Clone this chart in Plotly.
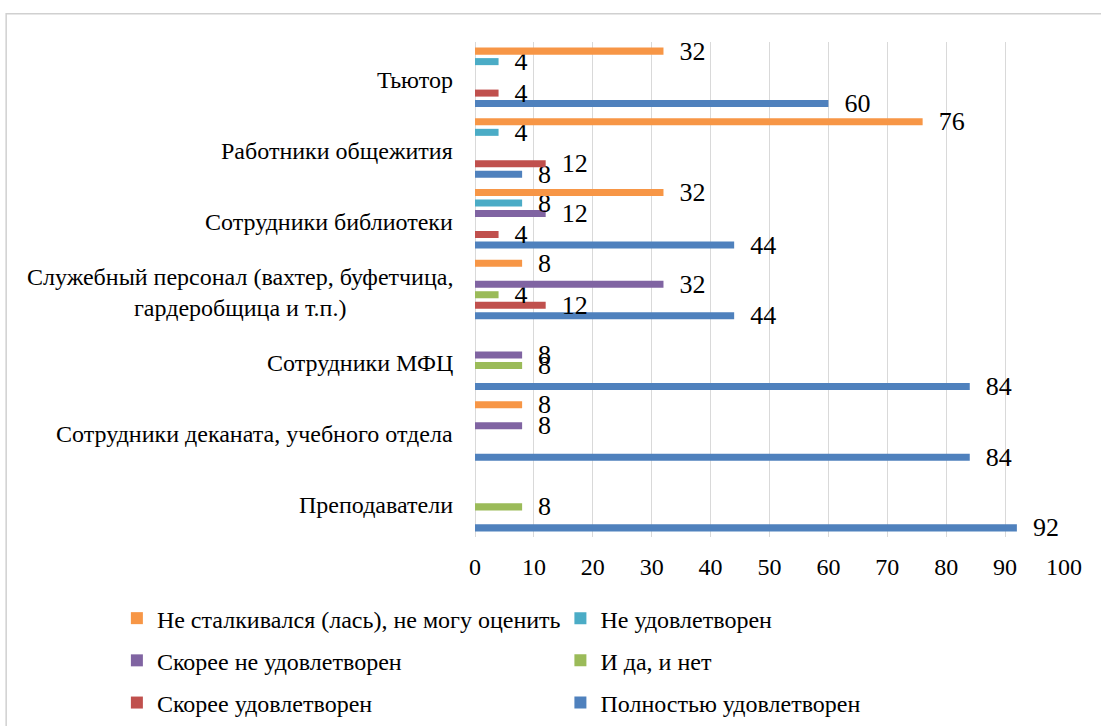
import plotly.graph_objects as go

categories = [
    "Преподаватели",
    "Сотрудники деканата, учебного отдела",
    "Сотрудники МФЦ",
    "Служебный персонал (вахтер, буфетчица,<br>гардеробщица и т.п.)",
    "Сотрудники библиотеки",
    "Работники общежития",
    "Тьютор",
]

series_names = [
    "Полностью удовлетворен",
    "Скорее удовлетворен",
    "И да, и нет",
    "Скорее не удовлетворен",
    "Не удовлетворен",
    "Не сталкивался (лась), не могу оценить",
]

polnostyu = [92, 84, 84, 44, 44, 8, 60]
skoree_udovl = [0, 0, 0, 12, 4, 12, 4]
i_da_i_net = [8, 0, 8, 4, 0, 0, 0]
skoree_ne = [0, 8, 8, 32, 12, 0, 0]
ne_udovl = [0, 0, 0, 0, 8, 4, 4]
ne_stalk = [0, 8, 0, 8, 32, 76, 32]

series_values = [polnostyu, skoree_udovl, i_da_i_net, skoree_ne, ne_udovl, ne_stalk]
colors = ["#4f81bd", "#c0504d", "#9bbb59", "#8064a2", "#4bacc6", "#f79646"]
legend_ref = ["legend2", "legend", "legend2", "legend", "legend2", "legend"]
legend_rank = [3, 3, 2, 2, 1, 1]

FONT = "Liberation Serif"

fig = go.Figure()
for name, vals, col, lg, rk in zip(series_names, series_values, colors, legend_ref, legend_rank):
    xs = [v if v != 0 else None for v in vals]
    fig.add_trace(go.Bar(
        y=categories, x=xs, name=name, orientation="h",
        marker=dict(color=col, line=dict(width=0)),
        text=[("\u00a0\u00a0" + str(v)) if v else "" for v in vals],
        textposition="outside", constraintext="none", cliponaxis=False,
        textfont=dict(family=FONT, size=26, color="black"),
        legend=lg, legendrank=rk, legendgroup=name,
    ))

annotations = []
for c in categories:
    annotations.append(dict(
        x=0, xref="paper", y=c, yref="y", xanchor="right", yanchor="middle",
        xshift=-20, yshift=-3, text=c, showarrow=False, align="center",
        font=dict(family=FONT, size=24, color="black"),
    ))

legend_common = dict(
    orientation="v", traceorder="grouped", tracegroupgap=8,
    font=dict(family=FONT, size=24, color="black"),
    xanchor="left", yanchor="top", xref="paper", yref="container",
    bgcolor="rgba(0,0,0,0)", itemclick=False,
)

fig.update_layout(
    width=1101, height=726,
    margin=dict(l=475, r=37, t=42, b=189),
    paper_bgcolor="white", plot_bgcolor="white",
    barmode="group", bargap=0.11, bargroupgap=0.33,
    font=dict(family=FONT, size=24, color="black"),
    xaxis=dict(range=[0, 100], dtick=10, showgrid=True, gridcolor="#d9d9d9", gridwidth=1,
               zeroline=True, zerolinecolor="#d9d9d9", zerolinewidth=1,
               showline=False, ticks="", ticklabelstandoff=13,
               tickfont=dict(family=FONT, size=24, color="black")),
    yaxis=dict(showticklabels=False, showgrid=False, zeroline=False, showline=False,
               categoryorder="array", categoryarray=categories),
    legend=dict(x=-0.608, y=0.179, **legend_common),
    legend2=dict(x=0.145, y=0.179, **legend_common),
    annotations=annotations,
    shapes=[dict(type="rect", xref="paper", yref="paper", x0=-0.796, x1=1.2, y0=-0.5, y1=1.057,
                 line=dict(color="#d0d0d0", width=1.5), fillcolor="rgba(0,0,0,0)", layer="below")],
    showlegend=True,
)

fig.write_html("out.html", config={"displayModeBar": False},
               post_script="document.body.style.margin='0';document.body.style.padding='0';")
